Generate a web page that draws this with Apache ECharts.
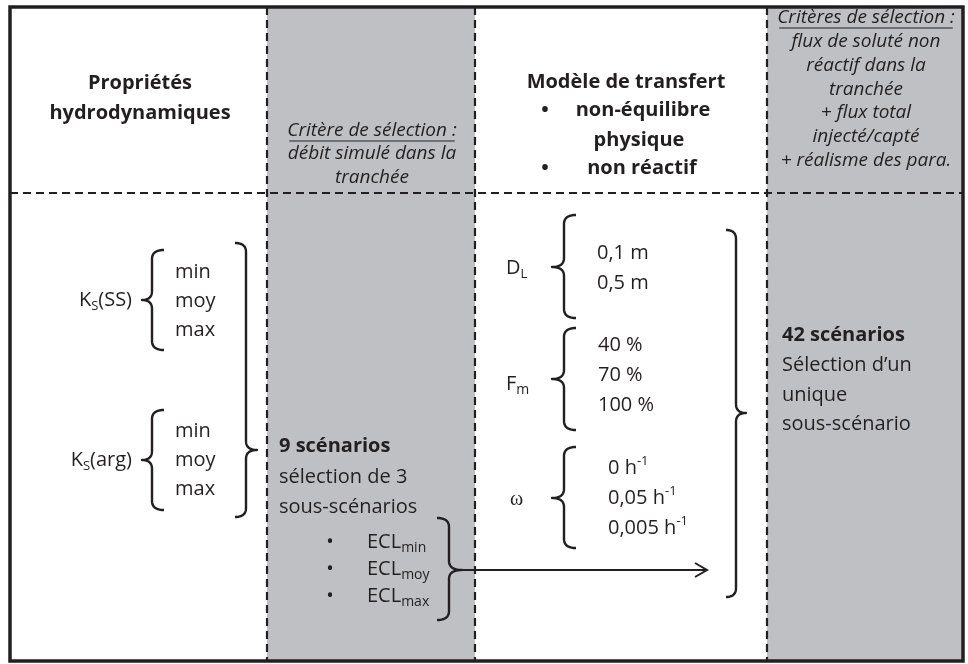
<!DOCTYPE html>
<html><head><meta charset="utf-8">
<script src="https://cdn.jsdelivr.net/npm/echarts@6/dist/echarts.min.js"></script>
<style>html,body{margin:0;padding:0;background:#fff}#c{width:968px;height:664px}</style>
</head><body><div id="c"></div>
<script>
// ---- content ----
const headerLeft = ['Propriétés', 'hydrodynamiques'];
const criterion1 = ['Critère de sélection :', 'débit simulé dans la', 'tranchée'];
const modelTitle = 'Modèle de transfert';
const modelLines = ['non-équilibre', 'physique', 'non réactif'];
const criterion2 = ['Critères de sélection :', 'flux de soluté non', 'réactif dans la', 'tranchée', '+ flux total', 'injecté/capté', '+ réalisme des para.'];
const ksParams = [['K', 'S', '(SS)'], ['K', 'S', '(arg)']];
const ksLevels = ['min', 'moy', 'max'];
const scen9 = ['9 scénarios', 'sélection de 3', 'sous-scénarios'];
const eclLevels = ['min', 'moy', 'max'];
const dlValues = ['0,1 m', '0,5 m'];
const fmValues = ['40 %', '70 %', '100 %'];
const omegaValues = ['0', '0,05', '0,005'];
const omegaUnit = ['h', '-1'];
const scen42 = ['42 scénarios', 'Sélection d’un', 'unique', 'sous-scénario'];

// ---- drawing helpers ----
const INK = '#231f20';
const GREY = '#bfc0c4';
const FAM = "'Open Sans', sans-serif";
const cv = document.createElement('canvas').getContext('2d');
function fstr(s){ return (s.style||'normal')+' '+(s.weight||'normal')+' '+s.size+'px '+(s.family||FAM); }
function meas(t, s){ cv.font = fstr(s); return cv.measureText(t).width; }
const els = [];
function txt(t, x, y, s, align){
  els.push({type:'text', z:10, style:{text:t, x:x, y:y, font:fstr(s), fill:INK,
    align:align||'left', textAlign:align||'left', verticalAlign:'middle', textVerticalAlign:'middle'}});
}
function seq(segs, x, y, align){
  const w = segs.map(g => meas(g.t, g.s));
  const tot = w.reduce((a,b)=>a+b,0);
  let cx = align==='right' ? x-tot : align==='center' ? x-tot/2 : x;
  segs.forEach((g,i)=>{ txt(g.t, cx, y+(g.dy||0), g.s, 'left'); cx += w[i]; });
  return tot;
}
function underline(t, x, y, s){
  const w = meas(t, s);
  els.push({type:'line', z:10, shape:{x1:x-w/2+2, y1:y, x2:x+w/2-2, y2:y}, style:{stroke:INK, lineWidth:1.2}});
}
function quad(pts, p0, c, p1){
  for (let i=1;i<=12;i++){ const t=i/12, u=1-t;
    pts.push([u*u*p0[0]+2*u*t*c[0]+t*t*p1[0], u*u*p0[1]+2*u*t*c[1]+t*t*p1[1]]); }
}
function brace(xTip, xBody, xHook, y1, y2, ym){
  const r = 9, pts = [[xHook, y1]];
  quad(pts, [xHook,y1], [xBody,y1], [xBody,y1+r]);
  pts.push([xBody, ym-r]);
  quad(pts, [xBody,ym-r], [xBody,ym], [xTip,ym]);
  quad(pts, [xTip,ym], [xBody,ym], [xBody,ym+r]);
  pts.push([xBody, y2-r]);
  quad(pts, [xBody,y2-r], [xBody,y2], [xHook,y2]);
  els.push({type:'polyline', z:10, shape:{points:pts}, style:{fill:'none', stroke:INK, lineWidth:2.4, lineJoin:'round'}});
}
function dline(x1,y1,x2,y2){
  els.push({type:'line', z:5, shape:{x1:x1,y1:y1,x2:x2,y2:y2}, style:{stroke:INK, lineWidth:2.2, lineDash:[8,5]}});
}

const L = 10, R = 963, T = 7, B = 661;
els.push({type:'rect', z:1, shape:{x:267, y:T, width:208, height:B-T}, style:{fill:GREY}});
els.push({type:'rect', z:1, shape:{x:767, y:T, width:R-767, height:B-T}, style:{fill:GREY}});
dline(L, 193, R, 193);
dline(267, T, 267, B);
dline(475, T, 475, B);
dline(767, T, 767, B);
els.push({type:'rect', z:6, shape:{x:L, y:T, width:R-L, height:B-T}, style:{fill:'none', stroke:INK, lineWidth:3.5}});

const sBold = {size:20, weight:'bold'};
const sReg = {size:20};
const sIt = {size:19, style:'italic'};
const sSub = {size:13};

// headers
txt(headerLeft[0], 140, 83, sBold, 'center');
txt(headerLeft[1], 140, 113, sBold, 'center');
criterion1.forEach((t,i)=> txt(t, 372, [131,154,178][i], sIt, 'center'));
underline(criterion1[0], 372, 141, sIt);
txt(modelTitle, 626, 82, sBold, 'center');
txt('•', 545, 110, sBold, 'center');
txt(modelLines[0], 643, 110, sBold, 'center');
txt(modelLines[1], 639, 140, sBold, 'center');
txt('•', 545, 168, sBold, 'center');
txt(modelLines[2], 642, 168, sBold, 'center');
const c2y = [18, 42, 66, 90, 113, 137, 161];
criterion2.forEach((t,i)=> txt(t, 866, c2y[i], sIt, 'center'));
underline(criterion2[0], 866, 28, sIt);

// K_S blocks
const ksY = [300, 460];
const ksLevY = [[272, 301, 330], [431, 460, 489]];
ksParams.forEach((p,k)=>{
  seq([{t:p[0], s:sReg}, {t:p[1], s:sSub, dy:6}, {t:p[2], s:sReg}], 132, ksY[k], 'right');
  brace(142, 152, 164, ksY[k]-50, ksY[k]+50, ksY[k]);
  ksLevels.forEach((t,i)=> txt(t, 175, ksLevY[k][i], sReg));
});
brace(257, 246, 235, 243, 517, 450);

// 9 scenarios
txt(scen9[0], 279, 446, {size:20, weight:'bold'});
txt(scen9[1], 279, 477, sReg);
txt(scen9[2], 279, 507, sReg);
const eclY = [542, 569, 596];
eclLevels.forEach((t,i)=>{
  txt('•', 330, eclY[i], sReg, 'center');
  seq([{t:'ECL', s:sReg}, {t:t, s:{size:14}, dy:6}], 367, eclY[i], 'left');
});
brace(462, 449, 437, 518, 620, 570);
els.push({type:'line', z:10, shape:{x1:463, y1:570, x2:707, y2:570}, style:{stroke:INK, lineWidth:2}});
els.push({type:'polyline', z:10, shape:{points:[[695,563],[707,570],[695,577]]}, style:{fill:'none', stroke:INK, lineWidth:2}});

// transfer parameters
seq([{t:'D', s:sReg}, {t:'L', s:sSub, dy:6}], 506, 268, 'left');
brace(552, 564, 576, 215, 318, 267);
dlValues.forEach((t,i)=> txt(t, 597, [253, 283][i], sReg));
seq([{t:'F', s:sReg}, {t:'m', s:{size:14}, dy:6}], 506, 384, 'left');
brace(552, 564, 576, 328, 430, 379);
fmValues.forEach((t,i)=> txt(t, 598, [345, 375, 405][i], sReg));
txt('ω', 510, 500, {size:20, family:"'Liberation Serif', serif"});
brace(552, 564, 576, 447, 548, 498);
omegaValues.forEach((t,i)=>{
  seq([{t:t+' '+omegaUnit[0], s:sReg}, {t:omegaUnit[1], s:sSub, dy:-7}], 608, [468, 498, 528][i], 'left');
});
brace(746, 736, 726, 230, 597, 413);

// 42 scenarios
txt(scen42[0], 782, 335, {size:20, weight:'bold'});
[365, 395, 424].forEach((y,i)=> txt(scen42[i+1], 782, y, sReg));

const chart = echarts.init(document.getElementById('c'), null, {renderer:'canvas'});
chart.setOption({animation:false, graphic:{elements:els}});
</script></body></html>
